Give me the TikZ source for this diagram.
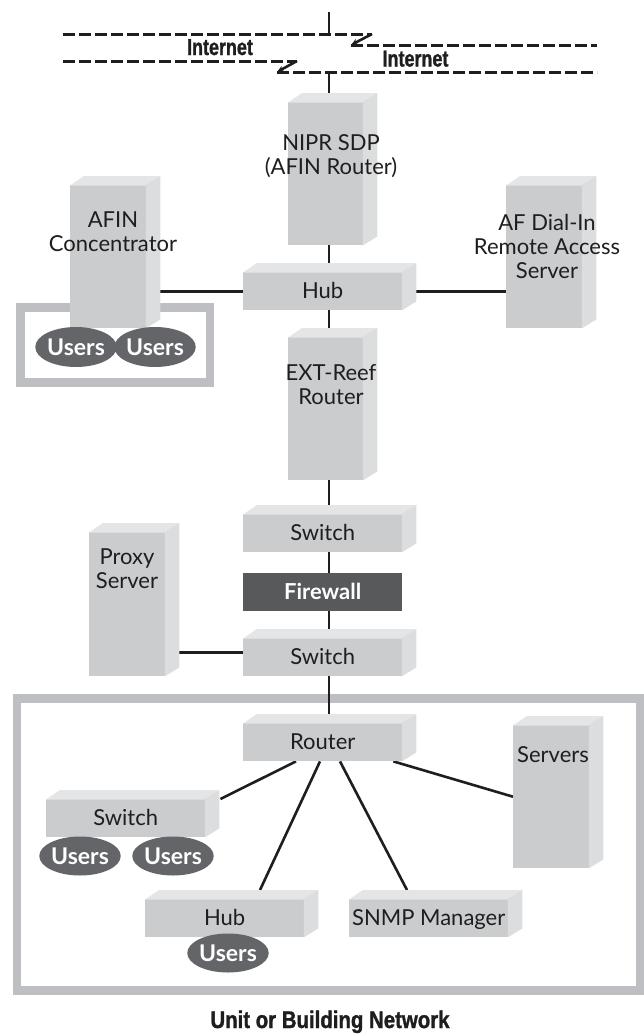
\documentclass[tikz,border=0pt]{standalone}
\usepackage{fontspec}
\newfontfamily\lbfont{Lato}
\newfontfamily\condfont[FakeStretch=0.78,FakeBold=1.2]{Liberation Sans}
\newfontfamily\titlefont[FakeStretch=0.85,FakeBold=1.2]{Liberation Sans}
\usetikzlibrary{shapes.geometric,arrows.meta,calc}
\pgfdeclarelayer{bg}
\pgfdeclarelayer{edges}
\pgfsetlayers{bg,edges,main}
\definecolor{frontc}{RGB}{203,204,206}
\definecolor{topc}{RGB}{228,229,230}
\definecolor{sidec}{RGB}{220,221,223}
\definecolor{usersc}{RGB}{100,101,105}
\definecolor{fwc}{RGB}{88,89,91}
\definecolor{framec}{RGB}{190,191,194}
\definecolor{linec}{RGB}{30,30,30}
\definecolor{textc}{RGB}{30,30,30}
\newcommand\boxfaces[1]{%
  \fill[topc] ([yshift=-0.6pt]#1.north west) -- ++(14,-9.6) -- ([shift={(14pt,9pt)}]#1.north east) -- ([yshift=-0.6pt]#1.north east) -- cycle;
  \fill[sidec] ([xshift=-0.6pt]#1.north east) -- ++(14.6,-9) -- ([shift={(14pt,9pt)}]#1.south east) -- ([xshift=-0.6pt]#1.south east) -- cycle;}
\begin{document}
\begin{tikzpicture}[x=1pt,y=-1pt,
  front/.style={rectangle, fill=frontc, inner sep=0pt, anchor=north west, text=textc,
    font=\lbfont\fontsize{22}{24}\selectfont, text height=15pt, text depth=1pt},
  wide/.style={front, minimum width=159pt, minimum height=38pt},
  tall/.style={front, minimum width=76pt, minimum height=143pt},
  fwbox/.style={rectangle, fill=fwc, inner sep=0pt, anchor=north west, text=white,
    font=\lbfont\bfseries\fontsize{22}{24}\selectfont, minimum width=159pt, minimum height=38pt,
    text height=15pt, text depth=1pt},
  lbl/.style={font=\lbfont\fontsize{22}{24}\selectfont, text=textc, align=center, inner sep=0pt},
  users/.style={ellipse, fill=usersc, text=white, inner sep=0pt,
    font=\lbfont\bfseries\fontsize{23}{24}\selectfont, minimum width=74pt, minimum height=39pt},
  conn/.style={line width=2.6pt, draw=linec},
  inet/.style={line width=3pt, draw=linec, dash pattern=on 12pt off 4pt},
  inetdiag/.style={line width=2.6pt, draw=linec, -{Stealth[length=7pt,width=6pt]}},
  inetlbl/.style={font=\condfont\bfseries\fontsize{23}{24}\selectfont, text=textc, inner sep=0pt, anchor=base},
  framebox/.style={draw=framec, line width=8.5pt}
]
\useasboundingbox (0,0) rectangle (644,1036);
\begin{pgfonlayer}{bg}
  \fill[white] (0,0) rectangle (644,1036);
  \draw[framebox] (20.5,307.5) rectangle (210,382.5);
  \draw[framebox] (17,698.5) rectangle (640.5,990.5);
\end{pgfonlayer}

% Internet
\draw[inet] (63,34) -- (372,34);
\draw[inetdiag] (372,34) -- (351,45);
\draw[inet] (351,45) -- (597,45);
\draw[inet] (63,61) -- (297,61);
\draw[inetdiag] (297,61) -- (277,72);
\draw[inet] (277,72) -- (597,72);
\node[inetlbl] (inet1) at (220,55) {Internet};
\node[inetlbl] (inet2) at (415.5,66.5) {Internet};

% boxes
\node[front, minimum width=75pt, minimum height=143pt] (nipr) at (288,102) {};
\boxfaces{nipr}
\node[lbl] (niprt) at (331,156) {NIPR SDP\\(AFIN Router)};
\node[tall] (afin) at (70,185) {};
\boxfaces{afin}
\node[lbl] (afint) at (113,232) {AFIN\\Concentrator};
\node[tall] (af) at (506,185) {};
\boxfaces{af}
\node[lbl] (aft) at (547,246) {AF Dial-In\\Remote Access\\Server};
\node[wide] (hub1) at (243,272) {Hub};
\boxfaces{hub1}
\node[front, minimum width=75pt, minimum height=143pt] (ext) at (288,337) {};
\boxfaces{ext}
\node[lbl] (extt) at (331,385) {EXT-Reef\\Router};
\node[wide] (sw1) at (243,514) {Switch};
\boxfaces{sw1}
\node[fwbox] (fw) at (243,573) {Firewall};
\node[wide] (sw2) at (243,638) {Switch};
\boxfaces{sw2}
\node[front, minimum width=76pt, minimum height=144pt] (proxy) at (89,532) {};
\boxfaces{proxy}
\node[lbl] (proxyt) at (127,569) {Proxy\\Server};
\node[wide] (router) at (243,723) {Router};
\boxfaces{router}
\node[tall] (servers) at (513,725) {};
\boxfaces{servers}
\node[lbl] (serverst) at (553,755) {Servers};
\node[wide] (sw3) at (46,799) {Switch};
\boxfaces{sw3}
\node[wide] (hub2) at (145,899) {Hub};
\boxfaces{hub2}
\node[wide] (snmp) at (349,899) {SNMP Manager};
\boxfaces{snmp}

% users
\node[users, minimum height=40pt] (u1) at (76,347) {Users};
\node[users, minimum height=40pt] (u2) at (155,347) {Users};
\node[users] (u3) at (80,856) {Users};
\node[users] (u4) at (173,856) {Users};
\node[users, minimum width=72pt] (u5) at (228,953) {Users};

\node[font=\titlefont\bfseries\fontsize{24}{26}\selectfont, text=textc, inner sep=0pt, anchor=base] (title) at (330,1028) {Unit or Building Network};

% connectors
\coordinate (spine) at (329,0);
\coordinate (itop) at (329,12);
\coordinate (ia) at (329,34);
\coordinate (id) at (329,72);
\begin{pgfonlayer}{edges}
  \draw[conn] (itop) -- (ia);
  \draw[conn] (id) -- ([yshift=9pt]spine |- nipr.north);
  \draw[conn] (spine |- nipr.south) -- ([yshift=9pt]spine |- hub1.north);
  \draw[conn] ([xshift=14pt]afin.east |- hub1.west) -- (hub1.west);
  \draw[conn] ([xshift=14pt]hub1.east) -- (af.west |- hub1.east);
  \draw[conn] (spine |- hub1.south) -- ([yshift=9pt]spine |- ext.north);
  \draw[conn] (spine |- ext.south) -- ([yshift=9pt]spine |- sw1.north);
  \draw[conn] (spine |- sw1.south) -- (spine |- fw.north);
  \draw[conn] (spine |- fw.south) -- ([yshift=9pt]spine |- sw2.north);
  \draw[conn] ([xshift=14pt,yshift=5pt]proxy.east |- sw2.west) -- ([yshift=5pt]sw2.west);
  \draw[conn] (spine |- sw2.south) -- ([yshift=9pt]spine |- router.north);
  \draw[conn] ([xshift=53pt]router.south west) -- ([xshift=15pt]sw3.north east);
  \draw[conn] ([xshift=77pt]router.south west) -- ([xshift=115pt,yshift=9pt]hub2.north west);
  \draw[conn] ([xshift=97pt]router.south west) -- ([xshift=58pt,yshift=9pt]snmp.north west);
  \draw[conn] ([xshift=-9pt]router.south east) -- (servers.west);
\end{pgfonlayer}
\end{tikzpicture}
\end{document}
